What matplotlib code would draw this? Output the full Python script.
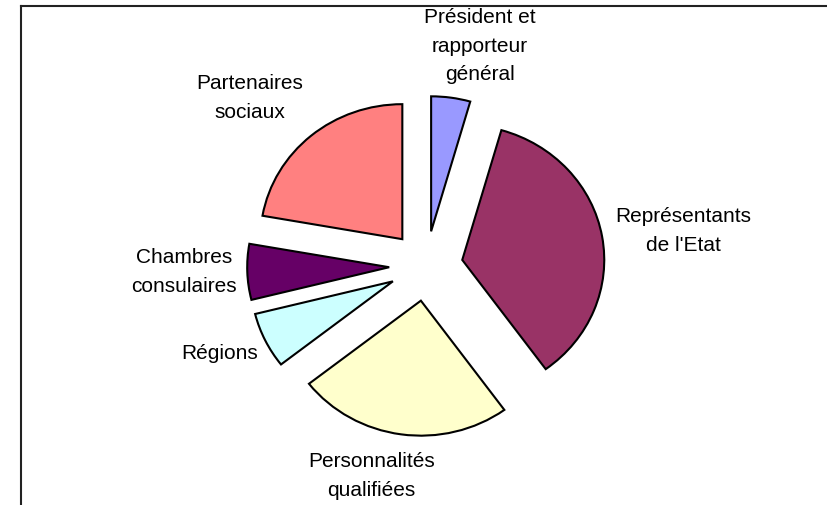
import numpy as np
import matplotlib.pyplot as plt
from matplotlib.lines import Line2D

# composition, clockwise from 12 o'clock
labels = ["Président et\nrapporteur\ngénéral", "Représentants\nde l'Etat",
          "Personnalités\nqualifiées", "Régions", "Chambres\nconsulaires",
          "Partenaires\nsociaux"]
values = [2, 16, 11, 3, 3, 10]
colors = ["#9999FF", "#993366", "#FFFFCC", "#CCFFFF", "#660066", "#FF8080"]

# label placement: distance from wedge centre (in radii) and compass bearing
label_dist = [1.422, 1.571, 1.337, 1.329, 1.445, 1.506]
label_bearing = [14.0, 81.9, 195.1, 246.8, 268.9, 314.4]

W, H = 828, 506
px_x, px_y = 142.0, 135.0   # pixels per pie radius (pie is slightly stretched)
cx, cy = 426, 267           # pie centre in pixels (from top-left)

fig = plt.figure(figsize=(W / 100, H / 100), dpi=100)
ax = fig.add_axes([0, 0, 1, 1])

wedges, _ = ax.pie(values, colors=colors, startangle=90, counterclock=False,
                   explode=[35 / px_y] * len(values),
                   wedgeprops=dict(edgecolor="black", linewidth=1.5))

ax.set_xlim(-cx / px_x, (W - cx) / px_x)
ax.set_ylim(-(H - cy) / px_y, cy / px_y)
ax.set_aspect("auto")
ax.axis("off")

for w, lab, d, b in zip(wedges, labels, label_dist, label_bearing):
    x0, y0 = w.center
    a = np.deg2rad(b)
    ax.text(x0 + d * np.sin(a), y0 + d * np.cos(a), lab, ha="center", va="center",
            fontsize=15, family="Liberation Sans", linespacing=1.65, color="black")

# chart area border (only left and top visible)
fx = 21 / W
fy = 1 - 6.7 / H
fig.add_artist(Line2D([fx, fx], [0, fy], color="#222222", lw=1.5, transform=fig.transFigure))
fig.add_artist(Line2D([fx, 1], [fy, fy], color="#222222", lw=1.5, transform=fig.transFigure))

fig.savefig("out.png", dpi=100)
